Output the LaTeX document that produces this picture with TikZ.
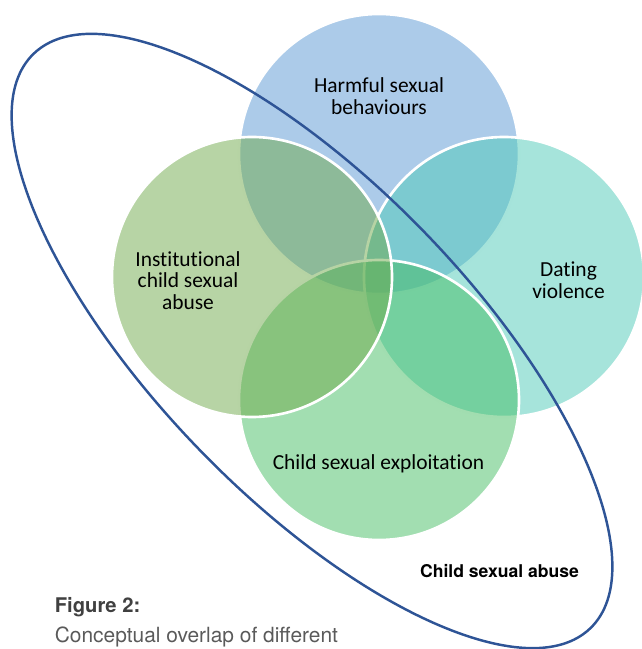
\documentclass[tikz,border=0pt]{standalone}
\usepackage{fontspec}
\setsansfont{TeX Gyre Heros}
\newfontfamily\calibri[Ligatures=NoCommon]{Carlito}
\usetikzlibrary{math}
\definecolor{hsbBlue}{RGB}{89,151,211}
\definecolor{icsaGreen}{RGB}{111,169,75}
\definecolor{dvTeal}{RGB}{77,201,183}
\definecolor{cseGreen}{RGB}{69,189,99}
\definecolor{csaBlue}{RGB}{46,84,150}
\definecolor{figGray}{RGB}{64,64,64}
\definecolor{capGray}{RGB}{90,90,90}

\begin{document}
\begin{tikzpicture}[
    venn/.style={draw=white, line width=1.5pt, fill opacity=0.5},
    vennlabel/.style={font=\calibri\fontsize{12.2}{12.4}\selectfont, align=center, text=black},
  ]
      \tikzmath{
        \w = 12.84;
        \h = 12.98;
        \r = 2.8;
      }
      \useasboundingbox (0,0) rectangle (\w,\h);
      \clip (0,0) rectangle (\w,\h);

      \coordinate (T) at (7.58, 9.90);
      \coordinate (L) at (5.04, 7.44);
      \coordinate (R) at (10.08, 7.44);
      \coordinate (B) at (7.58, 4.98);
      \coordinate (E) at (6.24, 6.16);

      % four overlapping sets
      \filldraw[venn, fill=hsbBlue] (T) circle [radius=\r];
      \filldraw[venn, fill=dvTeal] (R) circle [radius=\r];
      \filldraw[venn, fill=cseGreen] (B) circle [radius=\r];
      \filldraw[venn, fill=icsaGreen] (L) circle [radius=\r];

      % the enclosing set
      \draw[csaBlue, line width=1.4pt] (E) circle [x radius=8.0, y radius=3.13, rotate=-45.87];

      \node[vennlabel] (hsb) at (7.58, 11.06) {Harmful sexual\\behaviours};
      \node[vennlabel] (icsa) at (3.76, 7.37) {Institutional\\child sexual\\abuse};
      \node[vennlabel] (dv) at (11.37, 7.38) {Dating\\violence};
      \node[vennlabel] (cse) at (7.57, 3.70) {Child sexual exploitation};
      \node[font=\sffamily\bfseries\fontsize{10}{12}\selectfont, anchor=base] (csa) at (9.99, 1.434) {Child sexual abuse};

      \node[font=\sffamily\bfseries\fontsize{11.5}{13}\selectfont, text=figGray, anchor=base west, inner sep=0pt] (fig) at (1.09, 0.73) {Figure 2:};
      \node[font=\sffamily\fontsize{11.9}{13}\selectfont, text=capGray, anchor=base west, inner sep=0pt] (cap) at (1.09, 0.13) {Conceptual overlap of different};

    \end{tikzpicture}
\end{document}
